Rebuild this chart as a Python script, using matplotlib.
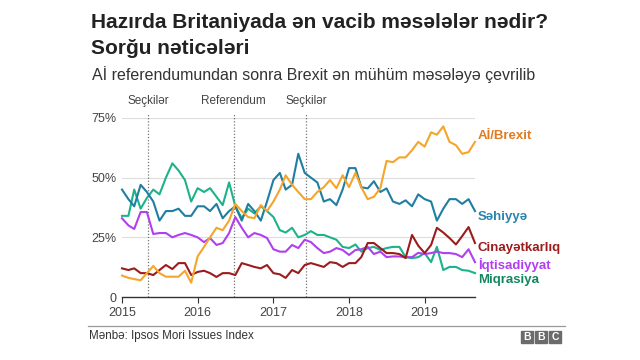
import matplotlib
matplotlib.use("Agg")
import matplotlib.pyplot as plt
import matplotlib.dates as mdates
from matplotlib.patches import Rectangle
import pandas as pd

plt.rcParams['font.family'] = ['Liberation Sans', 'DejaVu Sans']

# monthly survey, Jan 2015 - Sep 2019
months = pd.date_range('2015-01-01', periods=57, freq='MS')

brexit = [9, 8, 7.5, 7, 10, 13, 10, 8.5, 8.5, 8.5, 11, 6,
          17, 21, 25, 29, 28, 32, 39, 36, 33.5, 33, 38.5, 36,
          40, 45, 51, 47, 44, 41, 41, 44, 46, 49, 45.6, 51,
          46, 52, 46, 41, 42, 45.6, 57, 56.5, 58.5, 58.5, 61.5, 65,
          63, 69, 68, 71.5, 65, 63.6, 60, 60.7, 65]
health = [45, 41, 38, 47, 44, 40, 32, 36, 36, 37, 34, 34,
          38, 38, 36, 39, 33, 36, 38, 32, 39, 36, 32, 40,
          49, 52, 45, 47, 60, 52, 50, 48, 40, 41, 38.5, 45,
          54, 54, 46, 45.5, 48.5, 44, 45.5, 40, 39, 40.5, 38, 43,
          41, 40, 32, 37, 41, 41, 39, 41, 36]
crime = [12, 11.3, 12, 10, 10, 9.2, 11.3, 13.4, 11.7, 14.2, 14.2, 9.2,
         10.5, 11, 10, 8.4, 10, 10, 9.2, 14.2, 13.4, 12.6, 12, 13.4,
         10, 9.5, 8, 11.3, 10, 13.4, 14.2, 13.4, 12.6, 14.6, 14.2, 12.6,
         14.2, 14.2, 16.7, 22.6, 22.6, 20.5, 18.4, 18.4, 18, 16.3, 26, 21.5,
         18.4, 21.8, 29, 27, 24.7, 22, 25.5, 29.3, 22.6]
economy = [33, 30, 28.5, 35.6, 35.6, 26.4, 26.8, 26.8, 25, 26, 26.8, 26,
           25, 23, 24.7, 21.8, 22.6, 26.8, 33.5, 29, 25, 26.8, 26, 24.7,
           20, 19, 19, 21.8, 20.5, 24, 23, 20.5, 18.4, 19, 20.5, 19.7,
           17.6, 19.7, 20, 21, 18, 19, 16.7, 17, 17, 16.7, 16.7, 18.5,
           18, 18.4, 19, 18.4, 18.4, 18, 16.7, 20, 14.6]
immigration = [34, 34, 45, 37, 41.5, 45, 43, 50, 56, 53, 49, 40,
               45.6, 44, 45.6, 42, 38.5, 48, 38, 33, 37, 35, 38, 36,
               33.5, 28, 27, 29, 25, 26, 27.6, 26, 26, 25, 24, 21,
               20.5, 22, 19, 20.5, 21, 19.7, 20.5, 21, 21, 16.7, 16.3, 16.7,
               18.4, 14.6, 21, 11.3, 12.6, 12.6, 11.3, 11, 10]

series = [
    ('Aİ/Brexit', brexit, '#f5a52c', '#e07b22', 136),
    ('Səhiyyə', health, '#1f7ea1', '#2a84ad', 217),
    ('Cinayətkarlıq', crime, '#9b1c1c', '#9b1c1c', 248),
    ('İqtisadiyyat', economy, '#b13ff0', '#b13ff0', 265),
    ('Miqrasiya', immigration, '#1db38a', '#14865f', 280),
]

events = ['Seçkilər', 'Referendum', 'Seçkilər']
event_dates = pd.to_datetime(['2015-05-07', '2016-06-23', '2017-06-08'])

yticks = [0, 25, 50, 75]
ytick_labels = ['0', '25%', '50%', '75%']
years = [2015, 2016, 2017, 2018, 2019]

fig = plt.figure(figsize=(6.4, 3.6), dpi=100)
ax = fig.add_axes([122/640, 1 - 297/360, 353/640, 179/360])

for y in yticks[1:]:
    ax.axhline(y, color='#dddddd', lw=0.8, zorder=0)

for d in event_dates:
    ax.plot([d, d], [0, 77], color='#777777', lw=0.9, ls=(0, (1, 1.5)),
            clip_on=False, zorder=1)

for name, vals, c, lc, ly in series[::-1]:
    ax.plot(months, vals, color=c, lw=1.5, clip_on=False, zorder=3)

for name, vals, c, lc, ly in series:
    fig.text(478/640, 1 - ly/360, name, color=lc, fontsize=9.5,
             fontweight='bold', va='center', ha='left')

for lab, d in zip(events, event_dates):
    ax.annotate(lab, (mdates.date2num(d), 75), xytext=(0, 8),
                textcoords='offset points', ha='center', va='bottom',
                fontsize=8.5, color='#444444', annotation_clip=False)

ax.set_ylim(0, 75)
ax.set_xlim(months[0], months[-1])
ax.set_yticks(yticks)
ax.set_yticklabels(ytick_labels)
ax.set_xticks(pd.to_datetime([f'{y}-01-01' for y in years]))
ax.set_xticklabels([str(y) for y in years])
ax.tick_params(axis='y', length=0, pad=4, labelsize=9, labelcolor='#444444')
ax.tick_params(axis='x', length=4, width=0.8, color='#333333', pad=3,
               labelsize=9, labelcolor='#444444')
for s in ['top', 'right', 'left']:
    ax.spines[s].set_visible(False)
ax.spines['bottom'].set_color('#333333')
ax.spines['bottom'].set_linewidth(1.0)

fig.text(91/640, 1 - 22/360, 'Hazırda Britaniyada ən vacib məsələlər nədir?',
         fontsize=15, fontweight='bold', color='#222222', va='center')
fig.text(91/640, 1 - 48/360, 'Sorğu nəticələri',
         fontsize=15, fontweight='bold', color='#222222', va='center')
fig.text(92/640, 1 - 75/360,
         'Aİ referendumundan sonra Brexit ən mühüm məsələyə çevrilib',
         fontsize=11.5, color='#333333', va='center')

fig.add_artist(plt.Line2D([88/640, 565/640], [1 - 326/360, 1 - 326/360],
                          color='#999999', lw=0.9))
fig.text(89/640, 1 - 336/360, 'Mənbə: Ipsos Mori Issues Index',
         fontsize=8.4, color='#333333', va='center')

for i, ch in enumerate('BBC'):
    x0 = (521 + i * 14) / 640
    fig.add_artist(Rectangle((x0, 1 - 343/360), 12/640, 12/360,
                             color='#6b6b6b', transform=fig.transFigure))
    fig.text(x0 + 6/640, 1 - 337/360, ch, color='white', fontsize=7.5,
             fontweight='bold', ha='center', va='center')

fig.savefig('out.png', dpi=100, facecolor='white')
